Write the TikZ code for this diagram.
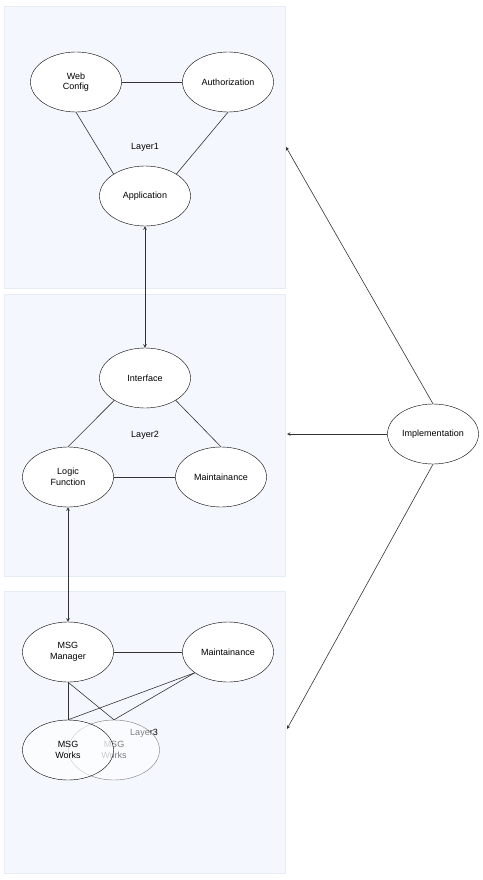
\documentclass[tikz,border=0pt]{standalone}
\usepackage{fontspec}
\setmainfont{Liberation Sans}
\usepackage{tikz}
\usetikzlibrary{positioning, shapes.geometric}
\definecolor{layerfill}{HTML}{F4F8FE}
\definecolor{layerline}{HTML}{E6ECF6}
\tikzstyle{layer}=[draw=layerline,fill=layerfill,line width=0.8pt]
\tikzstyle{blob}=[draw,ellipse,fill=white,minimum width=91pt,minimum height=60pt,inner sep=0pt,align=center,font=\fontsize{9}{10.5}\selectfont]
\tikzstyle{lbl}=[font=\fontsize{9}{10.5}\selectfont]
\tikzstyle{link}=[draw,black!80,line width=0.6pt]
\tikzstyle{flow}=[link,-stealth]
\tikzstyle{both}=[link,stealth-stealth]

\begin{document}
\begin{tikzpicture}[x=1pt,y=-1pt]
	\useasboundingbox (0,0) rectangle (482,880);
	% the three layers
	\foreach \ty in {6, 294, 591}
		\draw[layer] (4,\ty) rectangle (285,\ty+282);
	\coordinate (l1) at (286,147);
	\coordinate (l2) at (287,434);
	\coordinate (l3) at (287,729);

	% Layer1
	\node[lbl] (lay1) at (145,147) {Layer1};
	\node[blob] (web) at (76,82) {Web\\Config};
	\node[blob] (auth) at (228,82) {Authorization};
	\node[blob] (app) at (145,196) {Application};
	\draw[link] (web) -- (auth);
	\draw[link] (web.south) -- (app.145);
	\draw[link] (auth.south) -- (app.35);

	% Layer2
	\node[lbl] (lay2) at (145,435) {Layer2};
	\node[blob] (iface) at (145,378) {Interface};
	\node[blob] (logic) at (68,477) {Logic\\Function};
	\node[blob] (maint2) at (221,477) {Maintainance};
	\draw[link] (iface.216) -- (logic.north);
	\draw[link] (iface.324) -- (maint2.north);
	\draw[link] (logic) -- (maint2);
	\draw[both] (app.south) -- (iface.north);

	% Layer3
	\node[lbl] (lay3) at (144,733) {Layer3};
	\node[blob,opacity=0.5] (works2) at (114,750) {MSG\\Works};
	\node[blob,fill opacity=0.6,text opacity=1] (works1) at (68,750) {MSG\\Works};
	\node[blob] (mgr) at (68,652) {MSG\\Manager};
	\node[blob] (maint3) at (228,652) {Maintainance};
	\draw[link] (mgr) -- (maint3);
	\draw[link] (mgr.south) -- (works1.north);
	\draw[link] (mgr.south) -- (works2.north);
	\draw[link] (maint3.212) -- (works1.north);
	\draw[link] (maint3.212) -- (works2.north);
	\draw[both] (logic.south) -- (mgr.north);

	% Implementation
	\node[blob] (impl) at (433,434) {Implementation};
	\draw[flow] (impl.north) -- (l1);
	\draw[flow] (impl.west) -- (l2);
	\draw[flow] (impl.south) -- (l3);
\end{tikzpicture}
\end{document}
